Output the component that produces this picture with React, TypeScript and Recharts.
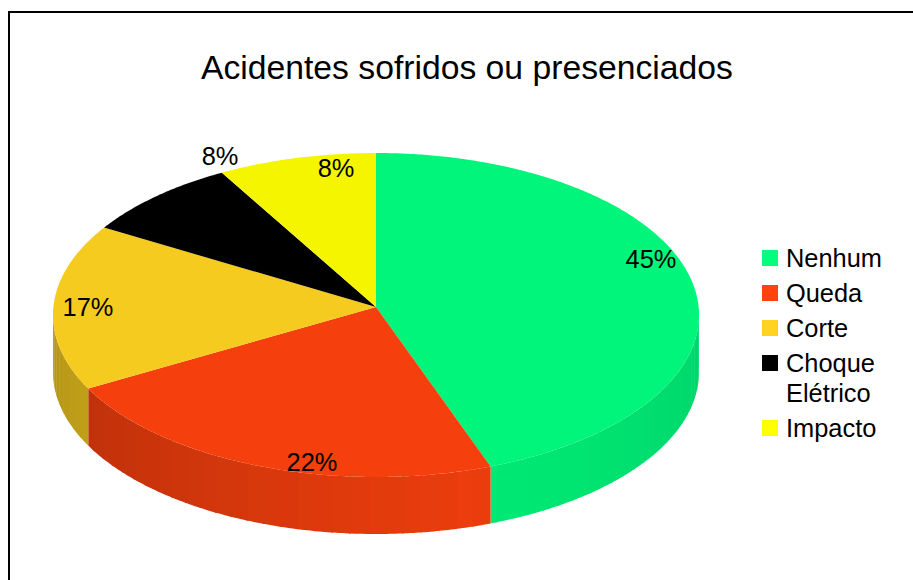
import { Legend, Pie, PieChart } from "recharts";

const TITLE = "Acidentes sofridos ou presenciados";
const categories = ["Nenhum", "Queda", "Corte", "Choque Elétrico", "Impacto"];
const shares = [44.5, 22.3, 16.6, 8.3, 8.3];
const colors = ["#00FF7F", "#FF420E", "#FFD320", "#000000", "#FFFF00"];

const data = categories.map((name, i) => ({ name, value: shares[i], fill: colors[i] }));

const FONT = '"Liberation Sans", Arial, sans-serif';

// perspective of the disc: the hub sits a bit above the middle of the ellipse
const SCALE_Y = 161.6 / 322.6;
const TILT = 0.0494;
const WALL = 57;

// label centres, LibreOffice does not put them on a regular radius
const labelPos = [
  [651, 259],
  [312, 462],
  [88, 307],
  [220, 156],
  [336, 168],
];

function rimPoint(cx: number, cy: number, r: number, theta: number) {
  const a = (theta * Math.PI) / 180;
  const u = Math.sin(a);
  const v = Math.cos(a);
  const d = 1 + TILT * v;
  return [cx + (r * u) / d, cy - (r * SCALE_Y * v) / d];
}

function shade(hex: string, f: number) {
  const n = parseInt(hex.slice(1), 16);
  const c = [(n >> 16) & 255, (n >> 8) & 255, n & 255].map((x) => Math.round(x * f));
  return `rgb(${c[0]},${c[1]},${c[2]})`;
}

function wallLight(theta: number) {
  return theta < 165 ? 0.92 - (165 - theta) * 0.0012 : 0.92 - (theta - 165) * 0.0022;
}

function PieSlice(props: any) {
  const { cx, cy, outerRadius, startAngle, endAngle, fill } = props;
  const from = 90 - startAngle;
  const to = 90 - endAngle;

  let top = `M${cx},${cy}`;
  for (let t = from; t < to; t += 0.5) {
    const [x, y] = rimPoint(cx, cy, outerRadius, t);
    top += `L${x},${y}`;
  }
  const [ex, ey] = rimPoint(cx, cy, outerRadius, to);
  top += `L${ex},${ey}Z`;

  // side wall in narrow bands, only the front half shows
  // each band runs a little under the next one so no seam shows
  const bands = [];
  const wallFrom = Math.max(from, 90);
  const wallTo = Math.min(to, 270);
  for (let t = wallFrom; t < wallTo; t += 3) {
    const end = Math.min(t + 3.4, wallTo);
    const upper = [];
    for (let s = t; s < end; s += 0.5) upper.push(rimPoint(cx, cy, outerRadius, s));
    upper.push(rimPoint(cx, cy, outerRadius, end));
    const lower = upper.map(([x, y]) => [x, y + WALL]).reverse();
    const d = "M" + [...upper, ...lower].map(([x, y]) => `${x},${y}`).join("L") + "Z";
    bands.push(<path key={t} d={d} fill={shade(fill, wallLight(t + 1.5))} />);
  }

  return (
    <g>
      {bands}
      <path d={top} fill={shade(fill, 0.96)} />
    </g>
  );
}

function SliceLabel(props: any) {
  const [x, y] = labelPos[props.index];
  return (
    <text x={x} y={y} textAnchor="middle" dominantBaseline="central" fontFamily={FONT} fontSize={25.4} fill="#000">
      {`${Math.round(props.value)}%`}
    </text>
  );
}

function LegendBox() {
  return (
    <div style={{ fontFamily: FONT, fontSize: 25.4, lineHeight: "30px", color: "#000" }}>
      {categories.map((name, i) => (
        <div key={name} style={{ display: "flex", alignItems: "flex-start", marginBottom: 5 }}>
          <span style={{ width: 16, height: 16, marginTop: 7, marginRight: 8, background: colors[i], flex: "none" }} />
          <span style={{ width: 110 }}>{name}</span>
        </div>
      ))}
    </div>
  );
}

export default function App() {
  return (
    <div style={{ position: "absolute", left: 0, top: 0, width: 913, height: 580, overflow: "hidden", background: "#fff" }}>
      <div style={{ position: "absolute", left: 8, top: 11, width: 1000, height: 700, border: "2px solid #000" }} />
      <div style={{ position: "absolute", left: 201, top: 45, whiteSpace: "nowrap", fontFamily: FONT, fontSize: 33.7, lineHeight: "44px" }}>
        {TITLE}
      </div>
      <PieChart width={913} height={580} margin={{ top: 0, right: 0, bottom: 0, left: 0 }} style={{ position: "absolute", left: 0, top: 0 }}>
        <Pie
          data={data}
          dataKey="value"
          nameKey="name"
          cx={376}
          cy={307}
          outerRadius={322.6}
          startAngle={90}
          endAngle={-270}
          stroke="none"
          isAnimationActive={false}
          labelLine={false}
          label={SliceLabel}
          shape={PieSlice}
        />
        <Legend content={LegendBox} layout="vertical" wrapperStyle={{ left: 762, top: 243, width: 140 }} />
      </PieChart>
    </div>
  );
}
